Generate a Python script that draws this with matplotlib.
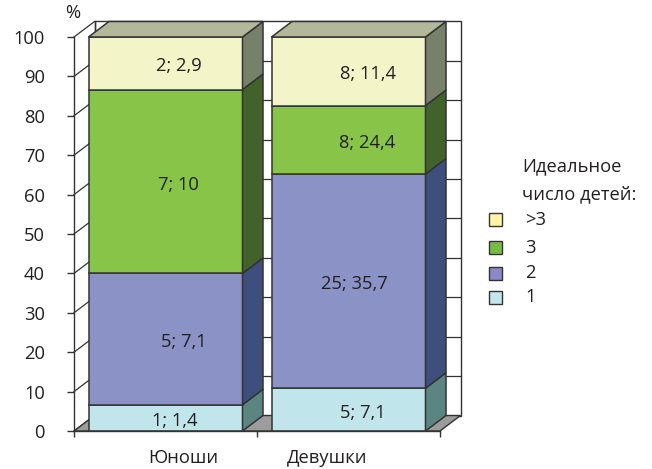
import numpy as np
import matplotlib
matplotlib.use("Agg")
import matplotlib.pyplot as plt
from matplotlib.patches import Polygon, Rectangle

plt.rcParams['font.family'] = ['Open Sans', 'DejaVu Sans']

### data ###
groups = ['Юноши', 'Девушки']
categories = ['1', '2', '3', '>3']
counts = {'Юноши': [1, 5, 7, 2], 'Девушки': [5, 25, 8, 8]}
second = {'Юноши': [1.4, 7.1, 10, 2.9], 'Девушки': [7.1, 35.7, 24.4, 11.4]}

### style ###
front_col = ['#C0E5EA', '#8A92C6', '#88C447', '#F3F4C8']
side_col = ['#5A8580', '#3E4E7D', '#41622A', '#76806A']
top_col = '#B3B89A'
legend_col = ['#C3E6EB', '#8A8ACB', '#77BB44', '#FFF3A6']
edge = '#333333'
tcol = '#231F20'
fs = 13.2

W, H = 652, 469
fig = plt.figure(figsize=(W / 100, H / 100), dpi=100)
# front plane of the plot: x 74..440 px, y 37..431 px
ax = fig.add_axes([74 / W, (H - 431) / H, 366 / W, 394 / H])
ax.set_xlim(-0.5, len(groups) - 0.5)
ax.set_ylim(0, 100)

px_x = 366 / len(groups)       # px per x unit
px_y = 394 / 100               # px per percent
dx = 20.5 / px_x               # depth offset
dy = 15.5 / px_y
bw = 154 / px_x                # bar width

x_lo, x_hi = -0.5, len(groups) - 0.5

# back wall with gridlines
ax.add_patch(Polygon([(x_lo + dx, dy), (x_hi + dx, dy), (x_hi + dx, 100 + dy),
                      (x_lo + dx, 100 + dy)], closed=True, fc='white', ec=edge,
                     lw=1, clip_on=False, zorder=1))
for v in range(10, 100, 10):
    ax.plot([x_lo + dx, x_hi + dx], [v + dy, v + dy], color=edge, lw=0.9,
            clip_on=False, zorder=1.1)
# left wall
for v in range(0, 101, 10):
    ax.plot([x_lo, x_lo + dx], [v, v + dy], color=edge, lw=0.9,
            clip_on=False, zorder=1.2)
ax.plot([x_lo + dx, x_lo + dx], [dy, 100 + dy], color=edge, lw=1,
        clip_on=False, zorder=1.2)
# floor
ax.add_patch(Polygon([(x_lo, 0), (x_hi, 0), (x_hi + dx, dy), (x_lo + dx, dy)],
                     closed=True, fc='#9C9C9C', ec=edge, lw=1, clip_on=False,
                     zorder=1.5))

# label nudges in px (per group, per category)
label_dx_px = [[9, 18, 13, 13], [14, 6, 19, 19]]

for i, g in enumerate(groups):
    c = np.array(counts[g], dtype=float)
    share = 100 * c / c.sum()
    bottoms = np.concatenate([[0], np.cumsum(share)[:-1]])
    x0, x1 = i - bw / 2, i + bw / 2
    for k in range(len(categories)):
        b, t = bottoms[k], bottoms[k] + share[k]
        ax.add_patch(Rectangle((x0, b), bw, share[k], fc=front_col[k], ec=edge,
                               lw=1.1, zorder=3, clip_on=False))
        ax.add_patch(Polygon([(x1, b), (x1 + dx, b + dy), (x1 + dx, t + dy), (x1, t)],
                             closed=True, fc=side_col[k], ec=edge, lw=1.1,
                             zorder=3, clip_on=False))
        txt = "{}; {}".format(counts[g][k], "{:g}".format(second[g][k]).replace('.', ','))
        ax.text(i + label_dx_px[i][k] / px_x, (b + t) / 2 - 0.8, txt, ha='center',
                va='center', fontsize=fs, color=tcol, zorder=5)
    top = bottoms[-1] + share[-1]
    ax.add_patch(Polygon([(x0, top), (x1, top), (x1 + dx, top + dy), (x0 + dx, top + dy)],
                         closed=True, fc=top_col, ec=edge, lw=1.1, zorder=3,
                         clip_on=False))

# axes
for s in ['top', 'right']:
    ax.spines[s].set_visible(False)
for s in ['left', 'bottom']:
    ax.spines[s].set_color(edge)
    ax.spines[s].set_linewidth(1)
    ax.spines[s].set_zorder(4)
ax.patch.set_alpha(0)
ax.set_yticks(range(0, 101, 10))
ax.tick_params(axis='y', direction='out', length=5, width=1, color=edge,
               pad=16, labelsize=fs, labelcolor=tcol)
ax.set_xticks(np.arange(x_lo, x_hi + 0.01, 1))
ax.set_xticklabels([])
ax.tick_params(axis='x', direction='out', length=4.3, width=1, color=edge)

group_dx_px = [18, -21]
for i, g in enumerate(groups):
    ax.text(i + group_dx_px[i] / px_x, -26.5 / px_y, g, ha='center', va='center',
            fontsize=fs, color=tcol)

fig.text(73 / W, 1 - 13 / H, '%', ha='center', va='center', fontsize=fs,
         color=tcol)

# legend
fig.text(522 / W, 1 - 166 / H, 'Идеальное', ha='left', va='center',
         fontsize=fs, color=tcol)
fig.text(522 / W, 1 - 194 / H, 'число детей:', ha='left', va='center',
         fontsize=fs, color=tcol)
rows_y = [297, 273, 248, 220]
for k, lab in enumerate(categories):
    y = rows_y[k]
    fig.patches.append(Rectangle((489 / W, 1 - (y + 6.5) / H), 13 / W, 13 / H,
                                 fc=legend_col[k], ec=edge, lw=1,
                                 transform=fig.transFigure, figure=fig))
    fig.text(525 / W, 1 - y / H, lab, ha='left', va='center', fontsize=fs,
             color=tcol)

fig.savefig('out.png', dpi=100)
